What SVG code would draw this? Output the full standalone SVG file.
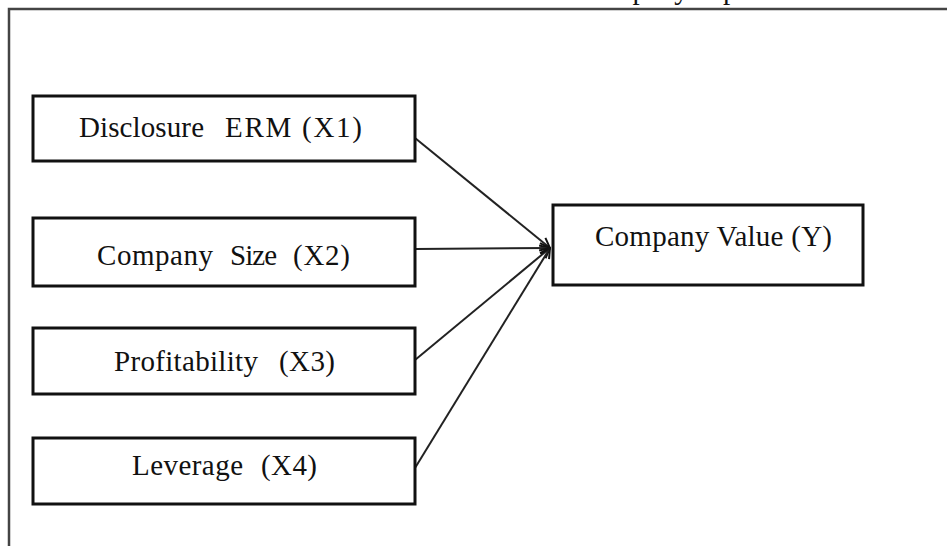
<svg xmlns="http://www.w3.org/2000/svg" width="947" height="546" viewBox="0 0 947 546">
<defs>
<style>
.box{fill:#fff;stroke:#111;stroke-width:3}
.lbl{font-family:"Liberation Serif","Times New Roman",serif;font-size:29px;fill:#111}
.conn{stroke:#222;stroke-width:2;fill:none;marker-end:url(#arr)}
</style>
<marker id="arr" viewBox="0 0 12 12" refX="11" refY="6" markerWidth="12" markerHeight="12" markerUnits="userSpaceOnUse" orient="auto">
<path d="M1,1 L11,6 L1,11" fill="none" stroke="#111" stroke-width="2"/>
</marker>
<clipPath id="topclip"><rect x="0" y="0" width="947" height="7.5"/></clipPath>
</defs>
<rect width="947" height="546" fill="#fff"/>
<g id="frame">
<text class="lbl" clip-path="url(#topclip)" y="-1"><tspan x="576">Company</tspan> <tspan x="723">p</tspan></text>
<path d="M9,546 V9 H947" fill="none" stroke="#444" stroke-width="2.5"/>
</g>
<g id="connectors">
<line class="conn" x1="415" y1="138" x2="550" y2="248"/>
<line class="conn" x1="415" y1="249" x2="550" y2="248"/>
<line class="conn" x1="415" y1="360" x2="550" y2="248"/>
<line class="conn" x1="415" y1="468" x2="550" y2="248"/>
</g>
<g id="x1">
<rect class="box" x="33" y="96" width="382" height="65"/>
<text class="lbl" y="137"><tspan x="79" textLength="125">Disclosure</tspan> <tspan x="225" textLength="137">ERM (X1)</tspan></text>
</g>
<g id="x2">
<rect class="box" x="33" y="218" width="382" height="68"/>
<text class="lbl" y="265"><tspan x="97" textLength="116">Company</tspan> <tspan x="230" textLength="47">Size</tspan> <tspan x="293" textLength="57">(X2)</tspan></text>
</g>
<g id="x3">
<rect class="box" x="33" y="328" width="382" height="66"/>
<text class="lbl" y="371"><tspan x="114" textLength="144">Profitability</tspan> <tspan x="279" textLength="56">(X3)</tspan></text>
</g>
<g id="x4">
<rect class="box" x="33" y="438" width="382" height="66"/>
<text class="lbl" y="475"><tspan x="132" textLength="111">Leverage</tspan> <tspan x="261" textLength="56">(X4)</tspan></text>
</g>
<g id="y">
<rect class="box" x="553" y="205" width="310" height="80"/>
<text class="lbl" x="595" y="246" textLength="237">Company Value (Y)</text>
</g>
</svg>
